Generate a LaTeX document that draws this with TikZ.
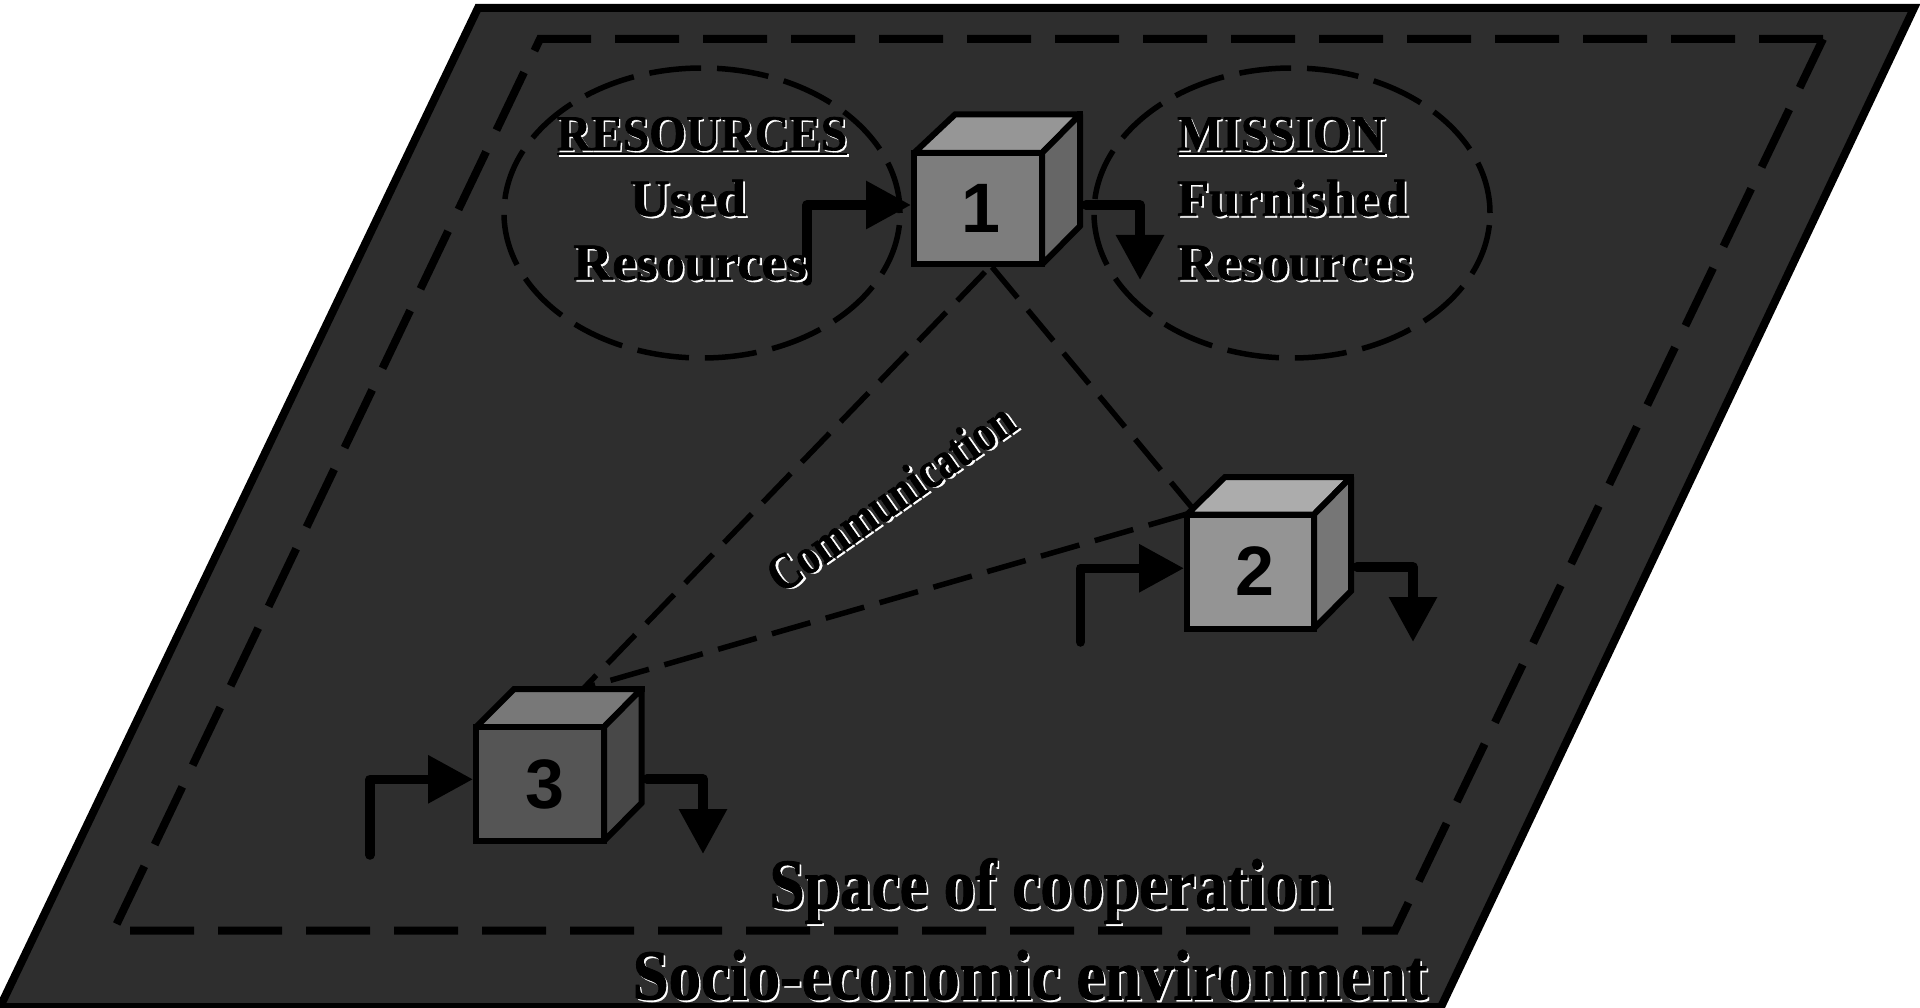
\documentclass[tikz,border=0pt]{standalone}
\usepackage{fontspec}
\setmainfont{Liberation Serif}
\newfontfamily\fatface{Liberation Serif}[BoldFeatures={FakeBold=1.4}]
\newfontfamily\whiteface{Liberation Serif}[BoldFeatures={FakeBold=0.3}]
\newfontfamily\digitfont{Liberation Sans}
\usetikzlibrary{arrows.meta,shapes.geometric}
\definecolor{env}{HTML}{2E2E2E}
\newcommand{\ulbar}[1]{\setbox0\hbox{#1}\rlap{\raisebox{-5pt}{\rule{\wd0}{2.5pt}}}\box0 }
\newcommand{\shtext}[4]{% size, xscale, yscale, text
  \fontsize{#1}{#1}\selectfont\bfseries\scalebox{#2}[#3]{\rlap{\kern2pt\raisebox{-2pt}{\color{white}\whiteface\bfseries #4}}\color{black}\fatface\bfseries #4}}
\newcommand{\shultext}[3]{%
  \fontsize{#1}{#1}\selectfont\bfseries\scalebox{#2}[1]{\rlap{\kern1.8pt\raisebox{-1.8pt}{\color{white}\whiteface\bfseries\ulbar{#3}}}\color{black}\fatface\bfseries \ulbar{#3}}}
\tikzset{
  envshape/.style={fill=env,draw=black,line width=8pt,line join=miter},
  spacedash/.style={draw=black,line width=8pt,dash pattern=on 64pt off 24pt,line join=miter},
  elldash/.style={draw=black,line width=5.5pt,dash pattern=on 52pt off 16pt},
  commdash/.style={draw=black,line width=5.5pt,dash pattern=on 40pt off 16pt},
  flow/.style={draw=black,line width=9.5pt,line join=round,line cap=round},
  head/.style={-{Triangle[length=45pt,width=46pt]},shorten >=3pt},
  frontface/.style={draw=black,line width=6pt,outer sep=0pt,inner sep=0pt,anchor=north west,font=\digitfont\bfseries\fontsize{70}{70}\selectfont,text=black},
  cubeface/.style={draw=black,line width=6pt,line join=miter,miter limit=2},
  cornerblock/.style={fill=black},
  lbl/.style={inner sep=0pt,outer sep=0pt},
}
\begin{document}
\begin{tikzpicture}[x=1pt,y=-1pt]
\useasboundingbox (0,0) rectangle (1920,1008);
% environment
\path[envshape] (478,8) -- (1914,8) -- (1441,1007) -- (0,1007) -- cycle;
\path[spacedash] (1823,39) -- (540,39) -- (113.5,930.7) -- (1395,930.7) -- (1823,39);
% ellipses
\node[ellipse,elldash,minimum width=396pt,minimum height=290pt,inner sep=0pt] (resEll) at (702,213) {};
\node[ellipse,elldash,minimum width=396pt,minimum height=290pt,inner sep=0pt] (misEll) at (1292,213) {};
% communication lines
\coordinate (c1a) at (985,272); \coordinate (c1b) at (992,267);
\coordinate (c2a) at (1194,510); \coordinate (c2b) at (1187,514);
\coordinate (c3a) at (584,688);
\draw[commdash] (c1a) -- (c3a);
\draw[commdash] (c1b) -- (c2a);
\draw[commdash] (c2b) -- (c3a);
% cube 1
\path[cubeface,fill={rgb,255:red,150;green,150;blue,150}] (914,153) -- (955,114.5) -- (1080,114.5) -- (1042,153) -- cycle;
\path[cubeface,fill={rgb,255:red,102;green,102;blue,102}] (1042,153) -- (1080,114.5) -- (1080,226) -- (1042,264.5) -- cycle;
\path[cornerblock] (1077,111.5) rectangle (1083,117.5);
\node[frontface,fill={rgb,255:red,125;green,125;blue,125},minimum width=128pt,minimum height=111.5pt] (c1) at (914,153) {\kern6pt 1};
% cube 2
\path[cubeface,fill={rgb,255:red,172;green,172;blue,172}] (1187,514.5) -- (1225,477) -- (1351,477) -- (1314,514.5) -- cycle;
\path[cubeface,fill={rgb,255:red,118;green,118;blue,118}] (1314,514.5) -- (1351,477) -- (1351,591) -- (1314,628.5) -- cycle;
\path[cornerblock] (1348,474) rectangle (1354,480);
\node[frontface,fill={rgb,255:red,148;green,148;blue,148},minimum width=127pt,minimum height=114pt] (c2) at (1187,514.5) {\kern9pt 2};
% cube 3
\path[cubeface,fill={rgb,255:red,120;green,120;blue,120}] (476,727) -- (514,689) -- (641.5,689) -- (604,727) -- cycle;
\path[cubeface,fill={rgb,255:red,72;green,72;blue,72}] (604,727) -- (641.5,689) -- (641.5,803) -- (604,841) -- cycle;
\path[cornerblock] (638.5,686) rectangle (644.5,692);
\node[frontface,fill={rgb,255:red,85;green,85;blue,85},minimum width=128pt,minimum height=114pt] (c3) at (476,727) {\kern10pt 3};
% flows
\coordinate (in1) at (807,281); \coordinate (in2) at (1080.5,642); \coordinate (in3) at (370,855);
\coordinate (out1) at (1140,280); \coordinate (out2) at (1413,642); \coordinate (out3) at (703,854);
\coordinate (o1s) at (1086,205); \coordinate (o2s) at (1357,567); \coordinate (o3s) at (647,779);
\draw[flow,head] (in1) |- ([yshift=3.75pt]c1.west);
\draw[flow,head,shorten >=0pt] (o1s) -| (out1);
\draw[flow,head] (in2) |- ([yshift=3.25pt]c2.west);
\draw[flow,head,shorten >=0pt] (o2s) -| (out2);
\draw[flow,head] (in3) |- ([yshift=4.7pt]c3.west);
\draw[flow,head,shorten >=0pt] (o3s) -| (out3);
% labels
\node[lbl] (tResources) at (702,137) {\shultext{50}{0.95}{RESOURCES}};
\node[lbl] (tUsed) at (688,199) {\shtext{52}{1.06}{1}{Used}};
\node[lbl] (tRes1) at (690,264) {\shtext{52}{1.04}{1}{Resources}};
\node[lbl,anchor=west] (tMission) at (1177,137) {\shultext{50}{0.96}{MISSION}};
\node[lbl,anchor=west] (tFurn) at (1177,199) {\shtext{52}{1.01}{1}{Furnished}};
\node[lbl,anchor=west] (tRes2) at (1177,264) {\shtext{52}{1.05}{1}{Resources}};
\node[lbl,rotate=35] (tComm) at (891,498) {\shtext{42}{1.0}{1.22}{Communication}};
\node[lbl] (tSpace) at (1051,892) {\shtext{66}{0.96}{1.08}{Space of cooperation}};
\node[lbl] (tSocio) at (1030,976) {\shtext{66}{0.98}{1.08}{Socio-economic environment}};
\end{tikzpicture}
\end{document}
